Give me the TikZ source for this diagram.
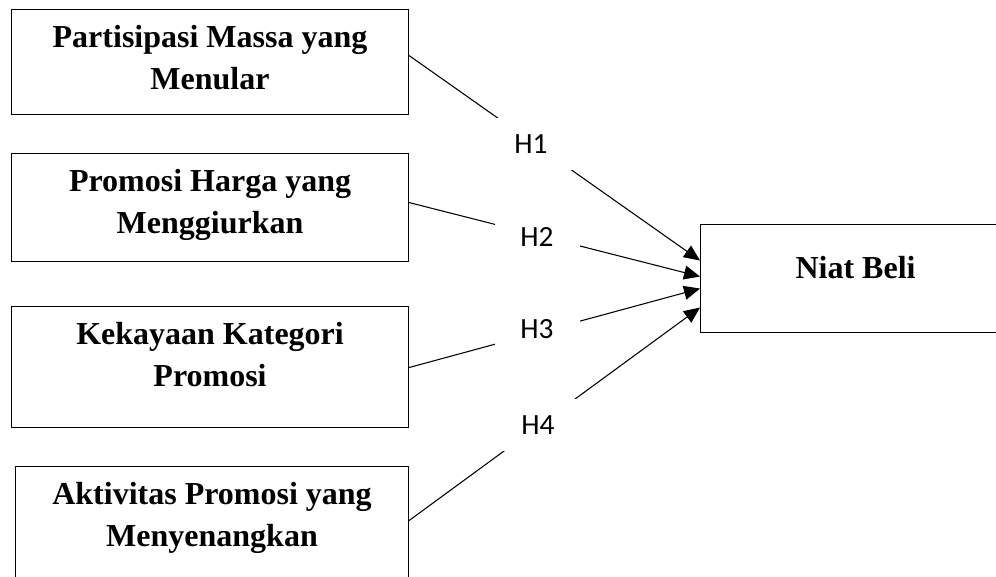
\documentclass[tikz,border=0pt]{standalone}
\usepackage{fontspec}
\setmainfont{Liberation Serif}
\newfontfamily\hfont{Carlito}
\usetikzlibrary{arrows.meta}
\begin{document}
\begin{tikzpicture}[x=0.75pt,y=-0.75pt,
  varbox/.style={draw, line width=0.8pt, inner sep=0pt, anchor=north west},
  vartext/.style={font=\fontsize{24}{31.5}\selectfont\bfseries, align=center, inner sep=0pt, anchor=north},
  hlab/.style={font=\hfont\fontsize{22}{26}\selectfont, fill=white, minimum width=63.75pt, minimum height=39pt, inner sep=0pt},
  conn/.style={line width=0.8pt, -{Triangle[length=12pt,width=10.5pt]}}]
\useasboundingbox (0,0) rectangle (996,576);
% source boxes
\node[varbox, minimum width=297.75pt, minimum height=78.75pt] (b1) at (11,9) {};
\node[varbox, minimum width=297.75pt, minimum height=81pt] (b2) at (11,153) {};
\node[varbox, minimum width=297.75pt, minimum height=90.75pt] (b3) at (11,306) {};
\node[varbox, minimum width=294.75pt, minimum height=85.5pt] (b4) at (15,466) {};
\node[vartext] (t1) at ([yshift=-6.85pt]b1.north) {\strut Partisipasi Massa yang\\Menular};
\node[vartext] (t2) at ([yshift=-6.85pt]b2.north) {\strut Promosi Harga yang\\Menggiurkan};
\node[vartext] (t3) at ([yshift=-6.85pt]b3.north) {\strut Kekayaan Kategori\\Promosi};
\node[vartext] (t4) at ([yshift=-6.85pt]b4.north) {\strut Aktivitas Promosi yang\\Menyenangkan};
% target box
\node[varbox, minimum width=232.5pt, minimum height=81pt] (niat) at (700,224) {};
\node[font=\fontsize{24}{31.5}\selectfont\bfseries, inner sep=0pt, anchor=base] (tn) at (niat.center) {Niat Beli};
% connectors
\draw[conn] ([yshift=4.875pt]b1.east) -- ([yshift=13.5pt]niat.west);
\draw[conn] ([yshift=3.75pt]b2.east) -- ([yshift=1.5pt]niat.west);
\draw[conn] ([yshift=-0.375pt]b3.east) -- ([yshift=-7.5pt]niat.west);
\draw[conn] ([yshift=2.25pt]b4.east) -- ([yshift=-21.75pt]niat.west);
% hypothesis labels
\node[hlab] (h1) at (531,144) {H1};
\node[hlab] (h2) at (537,237) {H2};
\node[hlab] (h3) at (537,329) {H3};
\node[hlab] (h4) at (538,425) {H4};
\end{tikzpicture}
\end{document}
